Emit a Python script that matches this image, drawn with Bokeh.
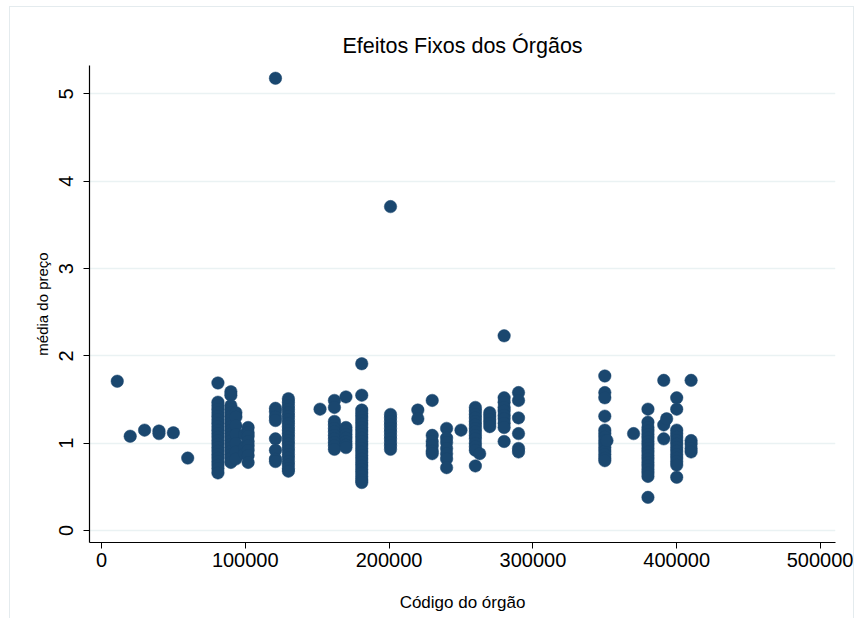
from bokeh.plotting import figure
from bokeh.models import Range1d, FixedTicker, BasicTickFormatter
from bokeh.embed import file_html
from bokeh.resources import INLINE

# Código do órgão (x) and média do preço (y) per organ column
codes = [11000, 20000, 30000, 40000, 50000, 60000, 81000, 90000, 93500, 99500,
         102000, 121000, 130000, 152000, 162000, 170000, 181000, 201000, 220000,
         230000, 240000, 250000, 260000, 263000, 270000, 280000, 290000, 350000,
         351500, 370000, 380000, 391000, 393000, 400000, 410000]

means = [
    [1.71],
    [1.08],
    [1.15],
    [1.14, 1.11],
    [1.12],
    [0.83],
    [1.69, 1.47, 1.43, 1.39, 1.35, 1.31, 1.27, 1.23, 1.19, 1.15, 1.11, 1.07, 1.03,
     0.99, 0.95, 0.91, 0.87, 0.83, 0.79, 0.75, 0.71, 0.66],
    [1.59, 1.55, 1.43, 1.39, 1.35, 1.31, 1.27, 1.23, 1.19, 1.15, 1.11, 1.07, 1.03,
     0.99, 0.95, 0.91, 0.87, 0.83, 0.78],
    [1.35, 1.30, 1.20, 1.10, 1.00, 0.90, 0.82],
    [1.10, 0.95, 0.88],
    [1.18, 1.12, 1.08, 1.02, 0.97, 0.92, 0.86, 0.78],
    [5.18, 1.40, 1.36, 1.30, 1.26, 1.05, 0.92, 0.82, 0.79],
    [1.51, 1.47, 1.43, 1.39, 1.35, 1.31, 1.27, 1.23, 1.19, 1.15, 1.11, 1.07, 1.03,
     0.99, 0.95, 0.91, 0.87, 0.83, 0.79, 0.75, 0.71, 0.68],
    [1.39],
    [1.49, 1.41, 1.25, 1.21, 1.17, 1.13, 1.09, 1.05, 1.01, 0.97, 0.93],
    [1.53, 1.18, 1.14, 1.10, 1.06, 1.02, 0.98, 0.95],
    [1.91, 1.55, 1.38, 1.34, 1.30, 1.26, 1.22, 1.18, 1.14, 1.10, 1.06, 1.02, 0.98,
     0.94, 0.90, 0.86, 0.82, 0.78, 0.74, 0.70, 0.66, 0.62, 0.58, 0.55],
    [3.71, 1.33, 1.29, 1.25, 1.21, 1.17, 1.13, 1.09, 1.05, 1.01, 0.97, 0.93],
    [1.38, 1.28],
    [1.49, 1.09, 1.02, 0.97, 0.91, 0.88],
    [1.17, 1.06, 1.01, 0.94, 0.88, 0.82, 0.72],
    [1.15],
    [1.41, 1.37, 1.33, 1.29, 1.25, 1.21, 1.17, 1.13, 1.09, 1.05, 1.00, 0.96, 0.92, 0.74],
    [0.88],
    [1.35, 1.31, 1.27, 1.23, 1.19],
    [2.23, 1.52, 1.47, 1.41, 1.37, 1.32, 1.28, 1.23, 1.18, 1.02],
    [1.58, 1.49, 1.29, 1.11, 0.94, 0.90],
    [1.77, 1.58, 1.52, 1.31, 1.15, 1.11, 1.07, 1.03, 0.99, 0.95, 0.91, 0.87, 0.83, 0.80],
    [1.03],
    [1.11],
    [1.39, 1.24, 1.18, 1.14, 1.10, 1.06, 1.02, 0.98, 0.94, 0.90, 0.86, 0.82, 0.78,
     0.74, 0.70, 0.66, 0.62, 0.38],
    [1.72, 1.21, 1.05],
    [1.28],
    [1.52, 1.39, 1.15, 1.11, 1.07, 1.03, 0.99, 0.95, 0.91, 0.87, 0.83, 0.79, 0.75, 0.61],
    [1.72, 1.03, 0.99, 0.94, 0.90],
]

x_ticks = [0, 100000, 200000, 300000, 400000, 500000]
y_ticks = [0, 1, 2, 3, 4, 5]

xs, ys = [], []
for c, vals in zip(codes, means):
    for v in vals:
        xs.append(c)
        ys.append(v)

NAVY = "#1a476f"
FONT = "Liberation Sans"

p = figure(width=845, height=618, output_backend="svg", toolbar_location=None,
           x_range=Range1d(-8300, 510400), y_range=Range1d(-0.137, 5.326),
           min_border_left=79, min_border_right=20, min_border_top=58,
           min_border_bottom=83)
p.margin = (6, 0, 0, 9)
p.styles = {"border": "1px solid #e4ebee"}

p.scatter(xs, ys, size=12.5, fill_color=NAVY, line_color=NAVY, line_width=0.5)

p.title.text = "Efeitos Fixos dos Órgãos"
p.title.align = "center"
p.title.text_font = FONT
p.title.text_font_style = "normal"
p.title.text_font_size = "21.5px"
p.title.text_color = "#000000"
p.title.standoff = 16

p.outline_line_color = None
p.background_fill_color = "white"
p.border_fill_color = "white"

p.xgrid.visible = False
p.ygrid.ticker = FixedTicker(ticks=y_ticks)
p.ygrid.grid_line_color = "#eaf2f3"
p.ygrid.grid_line_width = 1.5

p.xaxis.ticker = FixedTicker(ticks=x_ticks)
p.xaxis.formatter = BasicTickFormatter(use_scientific=False)
p.yaxis.ticker = FixedTicker(ticks=y_ticks)

for ax in (p.xaxis[0], p.yaxis[0]):
    ax.axis_line_color = "#000000"
    ax.axis_line_width = 1.2
    ax.major_tick_line_color = "#000000"
    ax.major_tick_out = 6
    ax.major_tick_in = 0
    ax.minor_tick_line_color = None
    ax.major_label_text_font = FONT
    ax.major_label_text_font_size = "20px"
    ax.major_label_text_color = "#000000"
    ax.axis_label_text_font = FONT
    ax.axis_label_text_font_style = "normal"
    ax.axis_label_text_color = "#000000"

p.xaxis.axis_label = "Código do órgão"
p.xaxis.axis_label_text_font_size = "17px"
p.xaxis.major_label_standoff = 4
p.xaxis.axis_label_standoff = 23

p.yaxis.axis_label = "média do preço"
p.yaxis.axis_label_text_font_size = "15px"
p.yaxis.major_label_orientation = "vertical"
p.yaxis.major_label_standoff = 10
p.yaxis.axis_label_standoff = 6

open("out.html", "w").write(file_html(p, INLINE))
